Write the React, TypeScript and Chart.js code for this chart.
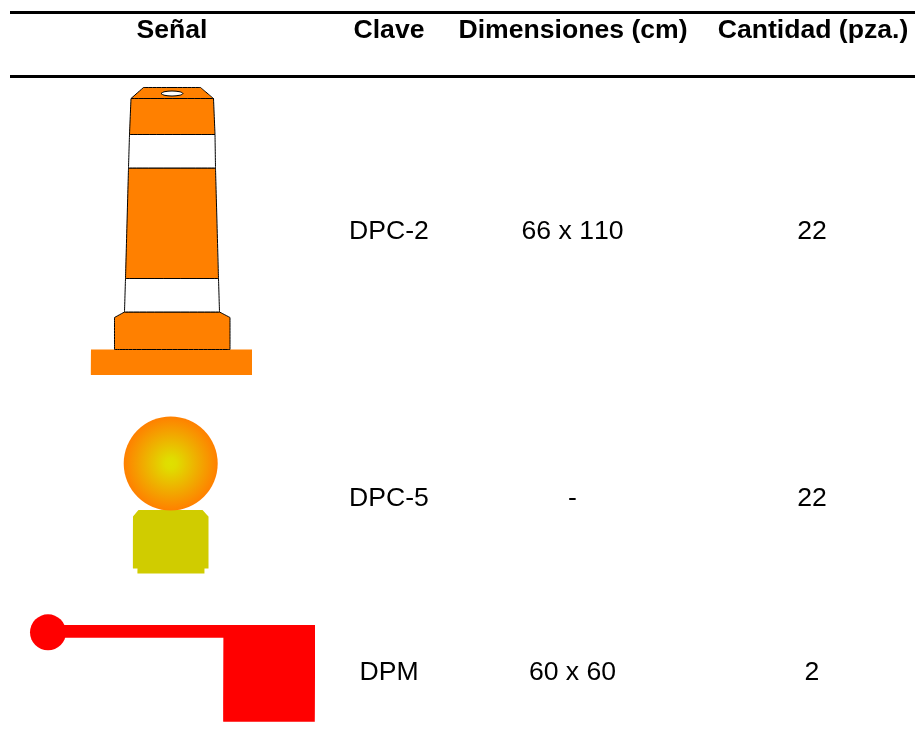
import React, { useEffect, useRef } from "react";
import { Chart, registerables } from "chart.js";

Chart.register(...registerables);

const headers = ["Señal", "Clave", "Dimensiones (cm)", "Cantidad (pza.)"];
const claves = ["DPC-2", "DPC-5", "DPM"];
const dimensiones = ["66 x 110", "-", "60 x 60"];
const cantidades = ["22", "22", "2"];

const headerCentres = [172, 389, 573, 813];
const cellCentres = [389, 572.5, 812];
const rowBaselines = [239.3, 506, 679.5];
const headerBaseline = 38;

type Pt = [number, number];

const ruleTop: Pt[] = [[10, 12.5], [915, 12.5]];
const ruleHeader: Pt[] = [[10, 76.5], [915, 76.5]];

const coneCap: Pt[] = [[131, 98.5], [143.5, 87.5], [200.5, 87.5], [213.5, 98.5], [131, 98.5]];
const coneTop: Pt[] = [[131, 98.5], [213.5, 98.5], [215, 134.5], [129.5, 134.5], [131, 98.5]];
const bandUpper: Pt[] = [[129.5, 134.5], [215, 134.5], [215.5, 168], [128.5, 168], [129.5, 134.5]];
const coneMiddle: Pt[] = [[128.5, 168], [215.5, 168], [218.5, 278.5], [125.5, 278.5], [128.5, 168]];
const bandLower: Pt[] = [[125.5, 278.5], [218.5, 278.5], [219.5, 312], [124.5, 312], [125.5, 278.5]];
const coneFoot: Pt[] = [[124.5, 312], [219.5, 312], [230, 317.5], [230, 349.5], [114.5, 349.5], [114.5, 317.5], [124.5, 312]];
const conePlinth: Pt[] = [[91, 349.5], [252, 349.5], [252, 375], [91, 375], [91, 349.5]];
const capHole: Pt[] = [[161, 93.5], [164, 91.8], [172, 91], [180, 91.8], [183, 93.5], [180, 95.2], [172, 96], [164, 95.2], [161, 93.5]];

const lampGlobe: Pt[] = [[170.7, 463.5]];
const lampBody: Pt[] = [[138.5, 510], [202.5, 510], [208.5, 516.5], [208.5, 568.5], [204.5, 568.5], [204.5, 573.5], [137.5, 573.5], [137.5, 568.5], [133, 568.5], [133, 516.5], [138.5, 510]];

const flagKnob: Pt[] = [[48, 632.3]];
const flagStaff: Pt[] = [[48, 625], [315, 625], [315, 637.7], [48, 637.7], [48, 625]];
const flagSquare: Pt[] = [[223.5, 625], [315, 625], [315, 721.7], [223.5, 721.7], [223.5, 625]];

const ORANGE = "#ff8000";
const WHITE = "#ffffff";
const OUTLINE = "#000000";
const LAMP = "#d0cc00";
const RED = "#ff0000";

const toData = (pts: Pt[]) => pts.map(([x, y]) => ({ x, y }));

const poly = (pts: Pt[], fill: string, border?: string, borderWidth = 1, tension = 0.0001) => ({
  type: "scatter" as const,
  data: toData(pts),
  showLine: true,
  fill: "shape",
  tension,
  backgroundColor: fill,
  borderColor: border ?? fill,
  borderWidth: border ? borderWidth : 0,
  pointRadius: 0,
});

const rule = (pts: Pt[]) => ({
  type: "scatter" as const,
  data: toData(pts),
  showLine: true,
  fill: false,
  borderColor: "#000000",
  borderWidth: 3,
  pointRadius: 0,
});

const tablePlugin = {
  id: "tableText",
  afterDatasetsDraw(chart: any) {
    const { ctx, scales } = chart;
    const px = (v: number) => scales.x.getPixelForValue(v);
    const py = (v: number) => scales.y.getPixelForValue(v);
    ctx.save();
    ctx.fillStyle = "#000000";
    ctx.textAlign = "center";
    ctx.textBaseline = "alphabetic";
    ctx.fontKerning = "none";
    ctx.font = 'bold 26.6px "Liberation Sans"';
    headers.forEach((h, i) => ctx.fillText(h, px(headerCentres[i]), py(headerBaseline)));
    ctx.font = '26.6px "Liberation Sans"';
    [claves, dimensiones, cantidades].forEach((col, c) => {
      col.forEach((t, r) => ctx.fillText(t, px(cellCentres[c]), py(rowBaselines[r])));
    });
    ctx.restore();
  },
};

export default function App() {
  const ref = useRef<HTMLCanvasElement>(null);
  useEffect(() => {
    // Chart.js paints the first dataset last, so the list below runs bottom layer to top layer and is reversed.
    const layers: any[] = [
      rule(ruleTop),
      rule(ruleHeader),
      poly(conePlinth, ORANGE),
      poly(coneFoot, ORANGE, OUTLINE),
      poly(bandLower, WHITE, OUTLINE),
      poly(coneMiddle, ORANGE, OUTLINE),
      poly(bandUpper, WHITE, OUTLINE),
      poly(coneTop, ORANGE, OUTLINE),
      poly(coneCap, ORANGE, OUTLINE),
      poly(capHole, WHITE, OUTLINE, 1, 0.3),
      poly(lampBody, LAMP),
      {
        type: "scatter" as const,
        data: toData(lampGlobe),
        pointRadius: 47,
        borderWidth: 0,
        backgroundColor: (c: any) => {
          const { x, y } = c.chart.scales;
          const cx = x ? x.getPixelForValue(lampGlobe[0][0]) : NaN;
          const cy = y ? y.getPixelForValue(lampGlobe[0][1]) : NaN;
          if (!Number.isFinite(cx) || !Number.isFinite(cy)) return ORANGE;
          const g = c.chart.ctx.createRadialGradient(cx, cy, 0, cx, cy, 47);
          g.addColorStop(0, "#dfe000");
          g.addColorStop(0.12, "#e0dc00");
          g.addColorStop(1, "#ff8000");
          return g;
        },
      },
      poly(flagStaff, RED),
      poly(flagSquare, RED),
      {
        type: "scatter" as const,
        data: toData(flagKnob),
        pointRadius: 18,
        borderWidth: 0,
        backgroundColor: RED,
      },
    ];
    const chart = new Chart(ref.current!, {
      type: "scatter",
      data: { datasets: layers.reverse() },
      options: {
        responsive: false,
        animation: false,
        events: [],
        layout: { padding: 0, autoPadding: false },
        plugins: { legend: { display: false }, tooltip: { enabled: false } },
        scales: {
          x: { type: "linear", min: 0, max: 915, display: false },
          y: { type: "linear", min: 0, max: 755, reverse: true, display: false },
        },
      },
      plugins: [tablePlugin],
    } as any);
    return () => chart.destroy();
  }, []);
  return (
    <div style={{ position: "absolute", left: 0, top: 0, width: 915, height: 755, background: "#fff" }}>
      <canvas ref={ref} width={915} height={755} style={{ display: "block" }} />
    </div>
  );
}
